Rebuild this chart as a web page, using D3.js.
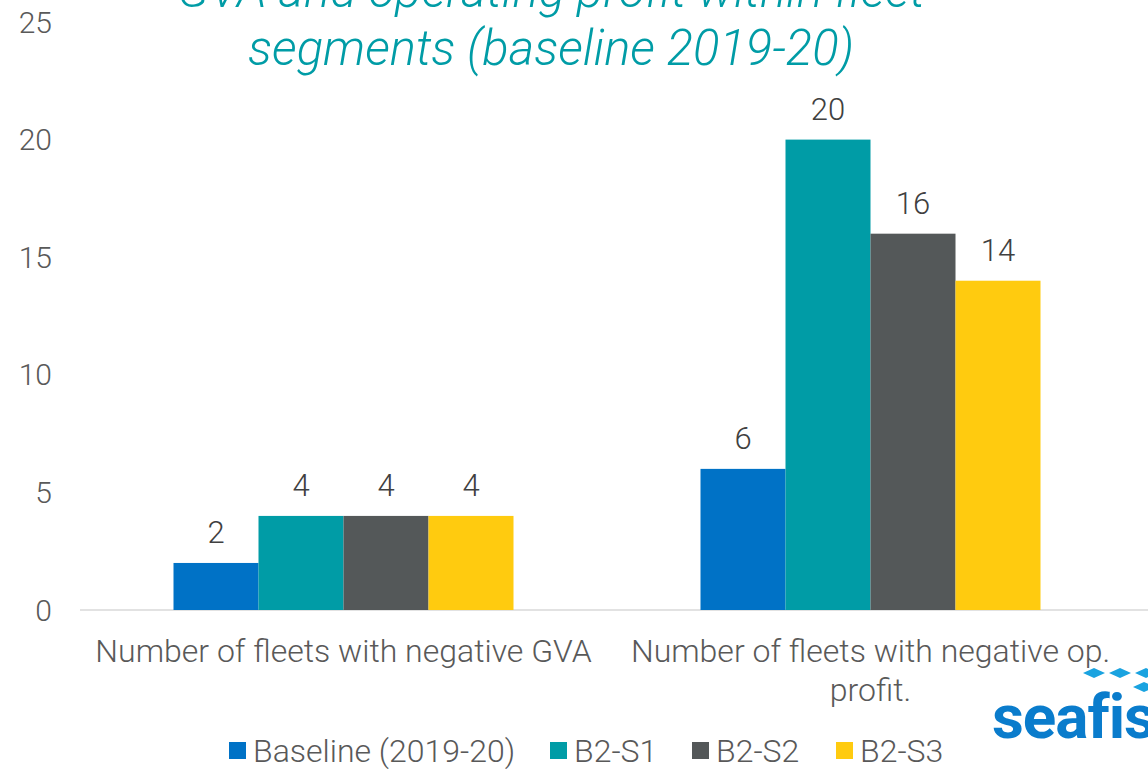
<!DOCTYPE html>
<html lang="en">
<head>
    <meta charset="UTF-8">
    <script src="https://d3js.org/d3.v7.min.js"></script>
    <title>GVA and operating profit within fleet segments</title>
    <style>
        body {
            margin: 0;
            padding: 0;
            background-color: white;
            overflow: hidden;
        }
        svg text {
            font-family: Roboto, "Open Sans", sans-serif;
            font-weight: 300;
        }
    </style>
</head>
<body>
    <svg id="chart" width="1148" height="769"></svg>
    <script>
        const categories = ["Number of fleets with negative GVA", "Number of fleets with negative op. profit."];
        const seriesNames = ["Baseline (2019-20)", "B2-S1", "B2-S2", "B2-S3"];
        const baseline = [2, 6];
        const b2s1 = [4, 20];
        const b2s2 = [4, 16];
        const b2s3 = [4, 14];
        const yTicks = [0, 5, 10, 15, 20, 25];
        const colors = ["#0072c6", "#009ca6", "#545859", "#ffcb0f"];

        const values = [baseline, b2s1, b2s2, b2s3];

        const svg = d3.select("#chart");

        const y = d3.scaleLinear().domain([0, 25]).range([610, 22]);
        const x0 = d3.scaleBand().domain(categories).range([80, 1134]).paddingInner(0).paddingOuter(0);
        const groupWidth = 340;
        const x1 = d3.scaleBand().domain(seriesNames).range([0, groupWidth]);

        // title (cut off at the top like the source)
        const title = svg.append("text")
            .attr("text-anchor", "middle")
            .attr("fill", "#009ca6")
            .style("font-style", "italic")
            .style("font-size", "49px");
        title.append("tspan").attr("x", 551).attr("y", 7).text("GVA and operating profit within fleet");
        title.append("tspan").attr("x", 551).attr("y", 65).text("segments (baseline 2019-20)");

        // y labels
        svg.append("g")
            .selectAll("text")
            .data(yTicks)
            .join("text")
            .attr("x", 52)
            .attr("y", d => y(d))
            .attr("dy", "0.35em")
            .attr("text-anchor", "end")
            .attr("fill", "#595959")
            .style("font-size", "30px")
            .text(d => d);

        // baseline axis
        svg.append("line")
            .attr("x1", 80)
            .attr("x2", 1148)
            .attr("y1", y(0))
            .attr("y2", y(0))
            .attr("stroke", "#d9d9d9")
            .attr("stroke-width", 1.5);

        const groups = svg.append("g")
            .selectAll("g")
            .data(categories)
            .join("g")
            .attr("transform", d => `translate(${x0(d) + (x0.bandwidth() - groupWidth) / 2},0)`);

        groups.selectAll("rect")
            .data((d, i) => seriesNames.map((s, j) => ({ s, v: values[j][i], j })))
            .join("rect")
            .attr("x", d => x1(d.s))
            .attr("width", x1.bandwidth())
            .attr("y", d => y(d.v))
            .attr("height", d => y(0) - y(d.v))
            .attr("fill", d => colors[d.j]);

        groups.selectAll("text.val")
            .data((d, i) => seriesNames.map((s, j) => ({ s, v: values[j][i] })))
            .join("text")
            .attr("class", "val")
            .attr("x", d => x1(d.s) + x1.bandwidth() / 2)
            .attr("y", d => y(d.v) - 20)
            .attr("text-anchor", "middle")
            .attr("fill", "#404040")
            .style("font-size", "31px")
            .text(d => d.v);

        // category labels, wrapped
        const catLabels = svg.append("g")
            .selectAll("text")
            .data(categories)
            .join("text")
            .attr("text-anchor", "middle")
            .attr("fill", "#595959")
            .style("font-size", "32px");

        catLabels.each(function (d) {
            const t = d3.select(this);
            const cx = x0(d) + x0.bandwidth() / 2;
            const words = d.split(" ");
            let line = [];
            let lineNo = 0;
            let tspan = t.append("tspan").attr("x", cx).attr("y", 662);
            words.forEach(w => {
                line.push(w);
                tspan.text(line.join(" "));
                if (tspan.node().getComputedTextLength() > 515 && line.length > 1) {
                    line.pop();
                    tspan.text(line.join(" "));
                    line = [w];
                    lineNo++;
                    tspan = t.append("tspan").attr("x", cx).attr("y", 662 + lineNo * 39).text(w);
                }
            });
        });

        // legend
        const legendX = [229, 550, 692, 836];
        const legend = svg.append("g")
            .selectAll("g")
            .data(seriesNames)
            .join("g")
            .attr("transform", (d, i) => `translate(${legendX[i]},742)`);
        legend.append("rect")
            .attr("width", 17)
            .attr("height", 17)
            .attr("fill", (d, i) => colors[i]);
        legend.append("text")
            .attr("x", 24)
            .attr("y", 9)
            .attr("dy", "0.35em")
            .attr("fill", "#595959")
            .style("font-size", "32px")
            .text(d => d);

        // logo, partly off the edge
        const logo = svg.append("g");
        logo.append("text")
            .attr("x", 992)
            .attr("y", 738)
            .attr("fill", "#0a7ccc")
            .style("font-weight", "700")
            .style("font-size", "62px")
            .style("letter-spacing", "-1px")
            .text("seafish");
        const dia = [[1094, 673], [1120, 673], [1146, 673], [1144, 687]];
        logo.selectAll("path")
            .data(dia)
            .join("path")
            .attr("d", d => `M${d[0] - 11},${d[1]} L${d[0]},${d[1] - 5} L${d[0] + 11},${d[1]} L${d[0]},${d[1] + 5} Z`)
            .attr("fill", "#1aa3e0");
    </script>
</body>
</html>
